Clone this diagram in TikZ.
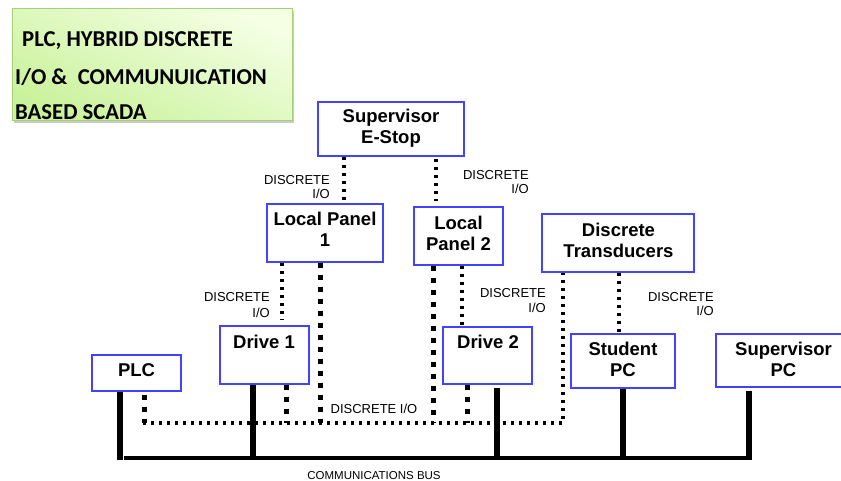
\documentclass[tikz,border=0pt]{standalone}
\usepackage{fontspec}
\setmainfont{Liberation Sans}
\newfontfamily\headfont{Carlito}
\usetikzlibrary{shadows}

\definecolor{boxblue}{RGB}{66,66,255}
\definecolor{headtop}{RGB}{244,255,228}
\definecolor{headbot}{RGB}{202,242,156}
\definecolor{headrule}{RGB}{165,208,115}

\tikzset{
  unit/.style={draw=boxblue, line width=1.3pt, fill=white, inner sep=0pt},
  unittext/.style={font=\bfseries\fontsize{18.5}{21}\selectfont, align=center, inner sep=0pt},
  iolabel/.style={font=\fontsize{13}{14.5}\selectfont, align=right, inner sep=0pt, anchor=east},
  buslabel/.style={font=\fontsize{11.5}{13}\selectfont, inner sep=0pt},
  headbox/.style={draw=headrule, line width=0.8pt, top color=headtop, bottom color=headbot,
    shading angle=-25, inner sep=0pt,
    drop shadow={shadow xshift=2pt, shadow yshift=-2.5pt, opacity=0.35, fill=black!60}},
  headtext/.style={font=\headfont\bfseries\fontsize{22.7}{25}\selectfont, inner sep=0pt, anchor=base west},
  iofine/.style={line width=3.3pt, dash pattern=on 3.3pt off 4.7pt, line cap=butt},
  iobold/.style={line width=5pt, dash pattern=on 5pt off 7pt, line cap=butt},
  busline/.style={line width=4.3pt, line cap=butt},
  busdrop/.style={line width=6pt, line cap=butt},
}

\begin{document}
\begin{tikzpicture}[x=1pt, y=-1pt]
\useasboundingbox (0,0) rectangle (841,481);
\clip (0,0) rectangle (841,481);
\fill[white] (0,0) rectangle (841,481);

% heading panel
\node[headbox, minimum width=280, minimum height=112, anchor=north west] (head) at (12,8) {};
\node[headtext] (h1) at (22,47) {PLC, HYBRID DISCRETE};
\node[headtext] (h2) at (15,85) {I/O \&\ \ COMMUNUICATION};
\node[headtext] (h3) at (15,120) {BASED SCADA};

% units
\node[unit, minimum width=146, minimum height=54] (estop) at (391,129) {};
\node[unit, minimum width=116, minimum height=58] (lp1) at (325,233) {};
\node[unit, minimum width=89,  minimum height=58] (lp2) at (458.5,236) {};
\node[unit, minimum width=152, minimum height=58] (dt) at (618,243) {};
\node[unit, minimum width=89,  minimum height=58] (d1) at (264.5,355) {};
\node[unit, minimum width=89,  minimum height=57] (d2) at (487.5,355.5) {};
\node[unit, minimum width=89,  minimum height=36] (plc) at (136.5,373) {};
\node[unit, minimum width=104, minimum height=54] (spc) at (623,361) {};
\node[unit, minimum width=134, minimum height=53] (svpc) at (783,360.5) {};

\node[unittext] (estop-t) at (391,128.5) {Supervisor\\E-Stop};
\node[unittext] (lp1-t) at (325,229.5) {Local Panel\\1};
\node[unittext] (lp2-t) at (458.5,233) {Local\\Panel 2};
\node[unittext] (dt-t) at (618.5,240.5) {Discrete\\Transducers};
\node[unittext] (d1-t) at (264,342) {Drive 1};
\node[unittext] (d2-t) at (488,342) {Drive 2};
\node[unittext] (plc-t) at (136.5,370) {PLC};
\node[unittext] (spc-t) at (623,359) {Student\\PC};
\node[unittext] (svpc-t) at (783.5,359) {Supervisor\\PC};

% shared lines
\coordinate (ioL) at (143,423);
\coordinate (busL) at (124,458);
\coordinate (busR) at (752,458);

% tap points on the units
\coordinate (plc-io) at ([xshift=7.5]plc.south);
\coordinate (d1-io) at ([xshift=21.5]d1.south);
\coordinate (lp1-io) at ([xshift=-5]lp1.south);
\coordinate (lp2-io) at ([xshift=-25.5]lp2.south);
\coordinate (d2-io) at ([xshift=-20.5]d2.south);
\coordinate (dt-io) at ([xshift=-55]dt.south);
\coordinate (plc-bus) at ([xshift=-16.5]plc.south);
\coordinate (d1-bus) at ([xshift=-11.5]d1.south);
\coordinate (d2-bus) at ([xshift=9.5]d2.south);
\coordinate (spc-bus) at (spc.south);
\coordinate (svpc-bus) at ([xshift=-34]svpc.south);

% discrete I/O links between units
\draw[iofine] ([xshift=-47]estop.south) -- ([xshift=19]lp1.north);
\draw[iofine, shorten <=2pt, shorten >=5pt] ([xshift=45]estop.south) -- ([xshift=-22.5]lp2.north);
\draw[iofine, shorten >=6pt] ([xshift=-43]lp1.south) -- ([xshift=17.5]d1.north);
\draw[iofine] ([xshift=3.5]lp2.south) -- ([xshift=-25.5]d2.north);
\draw[iofine] ([xshift=1]dt.south) -- ([xshift=-4]spc.north);

% discrete I/O trunk
\draw[iofine] (ioL) -- (dt-io |- ioL) -- (dt-io);
\draw[iobold, shorten <=3pt] (plc-io) -- (plc-io |- ioL);
\draw[iobold] (d1-io) -- (d1-io |- ioL);
\draw[iobold] (lp1-io) -- (lp1-io |- ioL);
\draw[iobold] (lp2-io) -- (lp2-io |- ioL);
\draw[iobold] (d2-io) -- (d2-io |- ioL);

% communications bus
\draw[busline] (busL) -- (busR);
\draw[busdrop, shorten >=-2pt] (plc-bus) -- (plc-bus |- busL);
\draw[busdrop, shorten >=-1pt] (d1-bus) -- (d1-bus |- busL);
\draw[busdrop, shorten <=3pt, shorten >=-1pt] (d2-bus) -- (d2-bus |- busL);
\draw[busdrop, shorten >=-1pt] (spc-bus) -- (spc-bus |- busL);
\draw[busdrop, shorten <=3pt, shorten >=-1pt] (svpc-bus) -- (svpc-bus |- busL);

% labels
\node[iolabel] (l1) at (330,187) {DISCRETE\\I/O};
\node[iolabel] (l2) at (529,182) {DISCRETE\\I/O};
\node[iolabel, font=\fontsize{13}{15.5}\selectfont] (l3) at (270,305) {DISCRETE\\I/O};
\node[iolabel] (l4) at (546,300.5) {DISCRETE\\I/O};
\node[iolabel] (l5) at (714,304) {DISCRETE\\I/O};
\node[buslabel, font=\fontsize{13}{15}\selectfont] (lio) at (374,409) {DISCRETE I/O};
\node[buslabel] (lbus) at (374,476) {COMMUNICATIONS BUS};
\end{tikzpicture}
\end{document}
